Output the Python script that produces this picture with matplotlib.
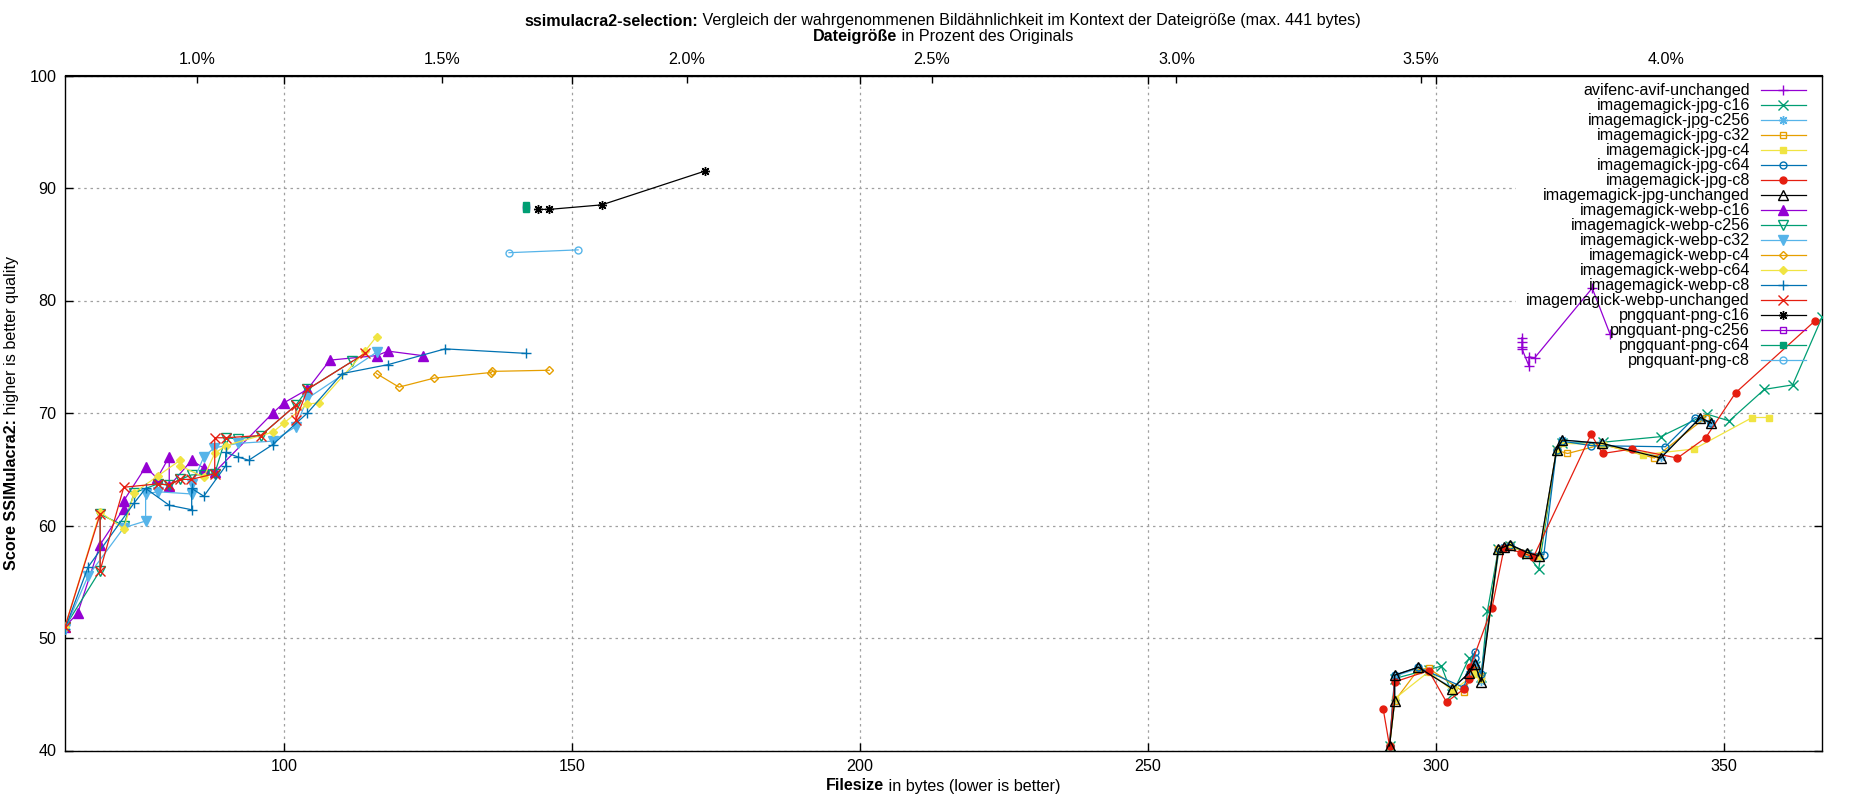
import matplotlib
matplotlib.use("Agg")
import matplotlib.pyplot as plt
from matplotlib.patches import Rectangle

plt.rcParams['font.family'] = ['Liberation Sans', 'DejaVu Sans']

ORIGINAL_BYTES = 8500
FONT_SIZE = 11.6
TITLE_BOLD = "ssimulacra2-selection:"
TITLE_REST = " Vergleich der wahrgenommenen Bildähnlichkeit im Kontext der Dateigröße (max. 441 bytes)"

# --- data (filesize in bytes, score) ---
avif_x = [315.0, 315.0, 315.0, 315.0, 316.2, 316.2, 317.2, 327.2, 330.3]
avif_y = [76.7, 76.3, 75.9, 75.7, 74.2, 75.0, 74.9, 81.1, 77.0]

jpg_c16_x = [292.0, 292.9, 298.8, 301.0, 302.9, 305.8, 306.8, 307.9, 309.0, 310.9, 312.9, 315.9,
             317.9, 321.0, 322.0, 329.0, 339.1, 347.1, 351.0, 357.1, 362.0, 367.1]
jpg_c16_y = [40.4, 46.4, 47.2, 47.5, 45.0, 48.2, 47.5, 46.5, 52.4, 57.9, 58.2, 57.5,
             56.1, 66.7, 67.3, 67.4, 67.9, 69.9, 69.3, 72.1, 72.5, 78.5]

jpg_c256_x = [292.0, 292.9, 292.9, 297.0, 302.9, 305.8, 306.8, 307.9, 310.9, 311.9, 312.9, 315.9,
              317.9, 321.0, 322.0, 328.9, 339.1, 346.0, 347.9]
jpg_c256_y = [40.4, 44.5, 46.6, 47.3, 45.6, 46.8, 47.6, 46.2, 57.9, 58.1, 58.3, 57.6,
              57.3, 66.7, 67.6, 67.3, 66.1, 69.6, 69.1]

jpg_c32_x = [292.0, 292.9, 297.0, 298.8, 304.9, 306.8, 307.9, 310.9, 312.9, 315.9, 318.0, 321.0,
             322.9, 329.0, 338.0, 346.9]
jpg_c32_y = [40.4, 44.4, 47.2, 47.3, 45.2, 47.2, 46.6, 57.9, 58.3, 57.6, 57.3, 66.7,
             66.4, 67.2, 66.0, 69.6]

jpg_c4_x = [292.0, 292.9, 298.8, 303.0, 306.8, 307.9, 311.0, 312.9, 315.9, 318.0, 321.0, 322.0,
            329.0, 336.0, 344.9, 355.0, 357.9]
jpg_c4_y = [40.4, 44.6, 47.0, 45.3, 46.8, 46.4, 57.8, 58.2, 57.5, 57.3, 66.6, 67.3,
            67.2, 66.3, 66.8, 69.6, 69.6]

jpg_c64_x = [292.0, 292.9, 297.0, 304.9, 306.8, 306.8, 307.9, 311.0, 312.9, 315.9, 318.8, 321.0,
             322.0, 327.0, 339.9, 345.0, 347.9]
jpg_c64_y = [40.4, 46.7, 47.4, 45.6, 48.8, 48.2, 46.8, 57.9, 58.3, 57.6, 57.4, 66.7,
             67.5, 67.1, 67.0, 69.6, 69.1]

jpg_c8_x = [290.9, 292.0, 292.9, 298.8, 301.9, 305.0, 305.8, 306.0, 309.8, 311.9, 314.9, 317.0,
            327.0, 329.0, 334.1, 342.0, 346.9, 352.1, 365.9]
jpg_c8_y = [43.7, 40.4, 46.1, 47.1, 44.3, 45.5, 46.4, 47.4, 52.7, 58.0, 57.6, 57.2,
            68.1, 66.4, 66.8, 66.0, 67.8, 71.8, 78.2]

jpg_unch_x = [292.0, 292.9, 292.9, 297.0, 302.9, 305.8, 306.8, 307.9, 310.9, 311.9, 312.9, 315.9,
              317.9, 321.0, 322.0, 328.9, 339.1, 346.0, 347.9]
jpg_unch_y = [40.4, 44.4, 46.7, 47.4, 45.5, 46.9, 47.7, 46.1, 57.9, 58.1, 58.3, 57.6,
              57.3, 66.7, 67.6, 67.3, 66.0, 69.6, 69.1]

webp_c16_x = [62.0, 64.2, 68.1, 72.2, 72.2, 76.0, 78.0, 80.1, 80.1, 84.0, 86.1, 88.1,
              98.1, 100.0, 104.1, 108.0, 116.1, 118.1, 124.1]
webp_c16_y = [51.0, 52.2, 58.3, 61.5, 62.2, 65.2, 64.2, 66.1, 63.5, 65.8, 65.1, 64.8,
              70.0, 70.9, 72.1, 74.7, 75.1, 75.5, 75.1]

webp_c256_x = [62.0, 68.1, 68.1, 72.2, 74.0, 78.1, 80.1, 82.0, 84.0, 86.1, 88.0, 89.9,
               92.0, 96.0, 102.1, 104.1, 111.9]
webp_c256_y = [51.0, 56.0, 61.0, 60.0, 62.9, 63.7, 63.6, 64.1, 64.5, 64.5, 64.6, 67.8,
               67.7, 68.0, 70.7, 72.1, 74.6]

webp_c32_x = [62.0, 66.0, 72.2, 76.0, 76.0, 78.1, 84.1, 84.1, 86.1, 87.9, 92.0, 98.1,
              102.1, 104.1, 116.1]
webp_c32_y = [50.8, 55.5, 59.8, 60.4, 62.8, 63.0, 62.8, 63.7, 66.1, 66.9, 67.3, 67.5,
              68.8, 71.3, 75.4]

webp_c4_x = [116.1, 120.0, 126.1, 136.0, 136.2, 146.1]
webp_c4_y = [73.5, 72.3, 73.1, 73.6, 73.7, 73.8]

webp_c64_x = [62.0, 68.1, 72.2, 74.0, 78.1, 82.0, 82.0, 86.1, 88.0, 89.9, 98.1, 100.0,
              104.1, 106.1, 114.1, 116.1]
webp_c64_y = [51.0, 61.2, 59.7, 62.9, 64.4, 65.8, 65.3, 64.3, 66.4, 67.1, 68.3, 69.1,
              70.8, 70.9, 75.5, 76.8]

webp_c8_x = [62.0, 66.0, 74.0, 76.0, 80.1, 84.0, 84.0, 86.1, 89.9, 89.9, 92.0, 93.9,
             98.1, 104.1, 110.1, 118.1, 128.0, 142.1]
webp_c8_y = [50.8, 56.3, 62.0, 63.3, 61.8, 61.4, 63.3, 62.6, 65.3, 66.5, 66.1, 65.8,
             67.2, 70.0, 73.5, 74.3, 75.7, 75.3]

webp_unch_x = [62.0, 68.1, 68.1, 72.2, 78.1, 80.1, 82.0, 83.9, 88.0, 88.0, 89.9, 96.0,
               102.1, 102.1, 104.1, 114.1]
webp_unch_y = [51.0, 61.0, 56.0, 63.4, 63.7, 63.6, 64.1, 64.1, 64.6, 67.8, 67.8, 68.0,
               70.7, 69.4, 72.1, 75.3]

png_c16_x = [144.2, 146.1, 155.2, 173.1]
png_c16_y = [88.1, 88.1, 88.5, 91.5]

png_c256_x = [142.0]
png_c256_y = [88.3]

png_c64_x = [142.0, 142.0]
png_c64_y = [88.1, 88.5]

png_c8_x = [139.1, 151.1]
png_c8_y = [84.25, 84.5]

# (label, x, y, color, marker, filled)
series = [
    ("avifenc-avif-unchanged", avif_x, avif_y, "#9400d3", "+", True),
    ("imagemagick-jpg-c16", jpg_c16_x, jpg_c16_y, "#009e73", "x", True),
    ("imagemagick-jpg-c256", jpg_c256_x, jpg_c256_y, "#56b4e9", (8, 2, 0), True),
    ("imagemagick-jpg-c32", jpg_c32_x, jpg_c32_y, "#e69f00", "s", False),
    ("imagemagick-jpg-c4", jpg_c4_x, jpg_c4_y, "#f0e442", "s", True),
    ("imagemagick-jpg-c64", jpg_c64_x, jpg_c64_y, "#0072b2", "o", False),
    ("imagemagick-jpg-c8", jpg_c8_x, jpg_c8_y, "#e51e10", "o", True),
    ("imagemagick-jpg-unchanged", jpg_unch_x, jpg_unch_y, "#000000", "^", False),
    ("imagemagick-webp-c16", webp_c16_x, webp_c16_y, "#9400d3", "^", True),
    ("imagemagick-webp-c256", webp_c256_x, webp_c256_y, "#009e73", "v", False),
    ("imagemagick-webp-c32", webp_c32_x, webp_c32_y, "#56b4e9", "v", True),
    ("imagemagick-webp-c4", webp_c4_x, webp_c4_y, "#e69f00", "D", False),
    ("imagemagick-webp-c64", webp_c64_x, webp_c64_y, "#f0e442", "D", True),
    ("imagemagick-webp-c8", webp_c8_x, webp_c8_y, "#0072b2", "+", True),
    ("imagemagick-webp-unchanged", webp_unch_x, webp_unch_y, "#e51e10", "x", True),
    ("pngquant-png-c16", png_c16_x, png_c16_y, "#000000", (8, 2, 0), True),
    ("pngquant-png-c256", png_c256_x, png_c256_y, "#9400d3", "s", False),
    ("pngquant-png-c64", png_c64_x, png_c64_y, "#009e73", "s", True),
    ("pngquant-png-c8", png_c8_x, png_c8_y, "#56b4e9", "o", False),
]


def marker_kw(color, marker, filled):
    size = 6.5
    if marker == "D":
        size = 4.5
    if marker in ("o", "s"):
        size = 5
    return dict(marker=marker, markersize=size, markeredgecolor=color,
                markerfacecolor=color if filled else "none", markeredgewidth=1.0)


def mixed_text(fig, cx, cy, parts, size=FONT_SIZE, rotation=0):
    # bold + normal pieces side by side, centred at (cx, cy) in pixels
    r = fig.canvas.get_renderer()
    objs = []
    for s, w in parts:
        t = fig.text(0, 0, s, fontsize=size, fontweight=w, ha="left", va="center",
                     transform=None)
        objs.append(t)
    widths = [t.get_window_extent(r).width for t in objs]
    pos = -sum(widths) / 2
    for t, w in zip(objs, widths):
        if rotation == 90:
            t.set_rotation(90)
            t.set_ha("center")
            t.set_va("bottom")
            t.set_position((cx, cy + pos))
        else:
            t.set_position((cx + pos, cy))
        pos += w


W, H = 1850, 800
fig = plt.figure(figsize=(W / 100, H / 100), dpi=100)
ax = fig.add_axes([65 / W, 1 - 750.5 / H, 1757 / W, 675 / H])

for label, xs, ys, color, marker, filled in series:
    ax.plot(xs, ys, color=color, linewidth=0.9, zorder=3, **marker_kw(color, marker, filled))

all_x = [v for s in series for v in s[1]]
ax.set_xlim(min(all_x), max(all_x))
ax.set_ylim(40, 100)
ax.set_xticks([100, 150, 200, 250, 300, 350])
ax.set_yticks([40, 50, 60, 70, 80, 90, 100])
ax.tick_params(direction="in", top=True, right=True, length=6, width=1,
               labelsize=FONT_SIZE, pad=6)
ax.grid(True, color="#a0a0a0", linestyle=(0, (2, 3)), linewidth=0.9)
ax.set_axisbelow(True)
for sp in ax.spines.values():
    sp.set_linewidth(1)

sec = ax.secondary_xaxis("top", functions=(lambda b: b / ORIGINAL_BYTES * 100,
                                           lambda p: p * ORIGINAL_BYTES / 100))
pct_ticks = [1.0, 1.5, 2.0, 2.5, 3.0, 3.5, 4.0]
sec.set_xticks(pct_ticks)
sec.set_xticklabels([f"{p:.1f}%" for p in pct_ticks])
sec.tick_params(direction="in", length=6, width=1, labelsize=FONT_SIZE, pad=6)

# legend by hand: right-aligned labels, sample on the right (gnuplot style)
ax.add_patch(Rectangle((0.826, 0.52), 0.174, 0.48, transform=ax.transAxes,
                       facecolor="white", edgecolor="none", zorder=2))
y0, dy = 0.9785, 15 / 675
for i, (label, xs, ys, color, marker, filled) in enumerate(series):
    y = y0 - i * dy
    ax.text(0.959, y, label, transform=ax.transAxes, ha="right", va="center",
            fontsize=FONT_SIZE, zorder=5)
    ax.plot([0.9653, 0.9909], [y, y], color=color, linewidth=0.9,
            transform=ax.transAxes, clip_on=False, zorder=5)
    ax.plot([0.978], [y], transform=ax.transAxes, clip_on=False, linestyle="none",
            zorder=5, **marker_kw(color, marker, filled))

mixed_text(fig, 943, H - 21, [(TITLE_BOLD, "bold"), (TITLE_REST, "normal")])
mixed_text(fig, 943, H - 36, [("Dateigröße", "bold"), (" in Prozent des Originals", "normal")])
mixed_text(fig, 943, H - 786, [("Filesize", "bold"), (" in bytes (lower is better)", "normal")])
mixed_text(fig, 12, H - 413, [("Score SSIMulacra2:", "bold"), (" higher is better quality", "normal")],
           rotation=90)

fig.savefig("out.png", dpi=100)
